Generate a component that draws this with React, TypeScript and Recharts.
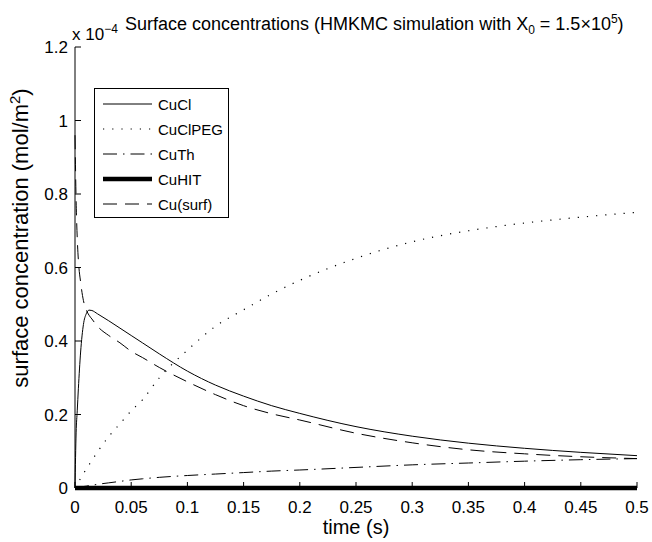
import { LineChart, Line, XAxis, YAxis, Legend } from "recharts";

// ─── Data (surface concentration in units of 1e-4 mol/m²) ───

const times = [
  0, 0.001, 0.002, 0.003, 0.005, 0.0075, 0.01, 0.0125, 0.015, 0.02, 0.03, 0.04, 0.05,
  0.06, 0.075, 0.1, 0.125, 0.15, 0.175, 0.2, 0.25, 0.3, 0.35, 0.4, 0.45, 0.5,
];
const cuCl = [
  0, 0.15, 0.21, 0.27, 0.37, 0.445, 0.474, 0.484, 0.483, 0.474, 0.455, 0.435, 0.415,
  0.395, 0.365, 0.318, 0.28, 0.25, 0.224, 0.203, 0.167, 0.141, 0.122, 0.108, 0.097, 0.088,
];
const cuClPeg = [
  0, 0.005, 0.01, 0.016, 0.026, 0.039, 0.051, 0.063, 0.075, 0.098, 0.14, 0.175, 0.21,
  0.24, 0.3, 0.375, 0.44, 0.485, 0.528, 0.565, 0.625, 0.67, 0.7, 0.721, 0.737, 0.75,
];
const cuTh = [
  0, 0.0005, 0.001, 0.0015, 0.0025, 0.004, 0.005, 0.0065, 0.0075, 0.01, 0.014, 0.018,
  0.022, 0.025, 0.029, 0.034, 0.038, 0.042, 0.046, 0.049, 0.056, 0.063, 0.068, 0.073,
  0.077, 0.08,
];
const cuHit = [
  0, 0, 0, 0, 0, 0, 0, 0, 0, 0, 0, 0, 0, 0, 0, 0, 0, 0, 0, 0, 0, 0, 0, 0, 0, 0,
];
const cuSurf = [
  0.96, 0.78, 0.68, 0.62, 0.56, 0.51, 0.485, 0.47, 0.46, 0.44, 0.415, 0.395, 0.372,
  0.355, 0.328, 0.289, 0.254, 0.224, 0.202, 0.185, 0.149, 0.123, 0.104, 0.093, 0.085,
  0.08,
];

const xTicks = [0, 0.05, 0.1, 0.15, 0.2, 0.25, 0.3, 0.35, 0.4, 0.45, 0.5];
const yTicks = [0, 0.2, 0.4, 0.6, 0.8, 1, 1.2];

const data = times.map((t, i) => ({
  t,
  cuCl: cuCl[i],
  cuClPeg: cuClPeg[i],
  cuTh: cuTh[i],
  cuHit: cuHit[i],
  cuSurf: cuSurf[i],
}));

// ─── Styles ──────────────────────────────────────

const FONT = '"Liberation Sans", Arial, Helvetica, sans-serif';

const series = [
  { key: "cuCl", name: "CuCl", width: 1, dash: undefined as string | undefined },
  { key: "cuClPeg", name: "CuClPEG", width: 1.2, dash: "1.2 8" },
  { key: "cuTh", name: "CuTh", width: 1, dash: "14 6 1.5 6" },
  { key: "cuHit", name: "CuHIT", width: 4.5, dash: undefined },
  { key: "cuSurf", name: "Cu(surf)", width: 1, dash: "14 8" },
];

// ─── Legend box ──────────────────────────────────

function LegendBox() {
  return (
    <div
      style={{
        width: 135,
        height: 130,
        border: "1px solid #000",
        background: "#fff",
        boxSizing: "border-box",
        position: "relative",
        fontFamily: FONT,
        fontSize: 15,
        color: "#000",
      }}
    >
      {series.map((s, i) => (
        <div
          key={s.key}
          style={{
            position: "absolute",
            left: 8,
            top: 4 + i * 25,
            height: 22,
            display: "flex",
            alignItems: "center",
            whiteSpace: "nowrap",
          }}
        >
          <svg width={50} height={22} style={{ display: "block" }}>
            <line
              x1={0}
              x2={49}
              y1={11}
              y2={11}
              stroke="#000"
              strokeWidth={s.width}
              strokeDasharray={s.dash}
            />
          </svg>
          <span style={{ marginLeft: 5 }}>{s.name}</span>
        </div>
      ))}
    </div>
  );
}

// ─── Chart ───────────────────────────────────────

export default function App() {
  return (
    <div
      style={{
        position: "absolute",
        left: 0,
        top: 0,
        width: 652,
        height: 542,
        background: "#fff",
      }}
    >
      <LineChart
        width={652}
        height={542}
        data={data}
        margin={{ top: 47, right: 15, left: 0, bottom: 0 }}
      >
        <XAxis
          dataKey="t"
          type="number"
          domain={[0, 0.5]}
          ticks={xTicks}
          tickFormatter={(v: number) => String(v)}
          tick={{ fontSize: 17, fill: "#000", fontFamily: FONT }}
          tickSize={-6}
          tickMargin={19}
          height={54}
          stroke="#000"
          label={{
            value: "time (s)",
            position: "insideBottom",
            offset: 8,
            fontSize: 20,
            fill: "#000",
            fontFamily: FONT,
          }}
        />
        <YAxis
          type="number"
          domain={[0, 1.2]}
          ticks={yTicks}
          tickFormatter={(v: number) => String(v)}
          tick={{ fontSize: 17, fill: "#000", fontFamily: FONT }}
          tickSize={-6}
          tickMargin={13}
          width={75}
          stroke="#000"
          label={{
            content: () => (
              <text
                transform="translate(28,238) rotate(-90)"
                textAnchor="middle"
                fontSize={22}
                fontFamily={FONT}
                fill="#000"
              >
                surface concentration (mol/m
                <tspan dy={-8} fontSize={15}>2</tspan>
                <tspan dy={8}>)</tspan>
              </text>
            ),
          }}
        />
        <Legend
          layout="vertical"
          align="center"
          verticalAlign="middle"
          content={() => <LegendBox />}
          wrapperStyle={{ left: 94, top: 88, width: 135, height: 130 }}
        />
        {series.map((s) => (
          <Line
            key={s.key}
            dataKey={s.key}
            name={s.name}
            type="monotone"
            stroke="#000"
            strokeWidth={s.width}
            strokeDasharray={s.dash}
            dot={false}
            activeDot={false}
            isAnimationActive={false}
          />
        ))}
        <text x={125} y={30} fontSize={18} fontFamily={FONT} fill="#000">
          Surface concentrations (HMKMC simulation with X
          <tspan dy={4} fontSize={12}>0</tspan>
          <tspan dy={-4}> = 1.5×10</tspan>
          <tspan dy={-7} fontSize={12}>5</tspan>
          <tspan dy={7}>)</tspan>
        </text>
        <text x={72} y={40} fontSize={17} fontFamily={FONT} fill="#000">
          x 10
          <tspan dy={-7} fontSize={12}>−4</tspan>
        </text>
      </LineChart>
    </div>
  );
}
